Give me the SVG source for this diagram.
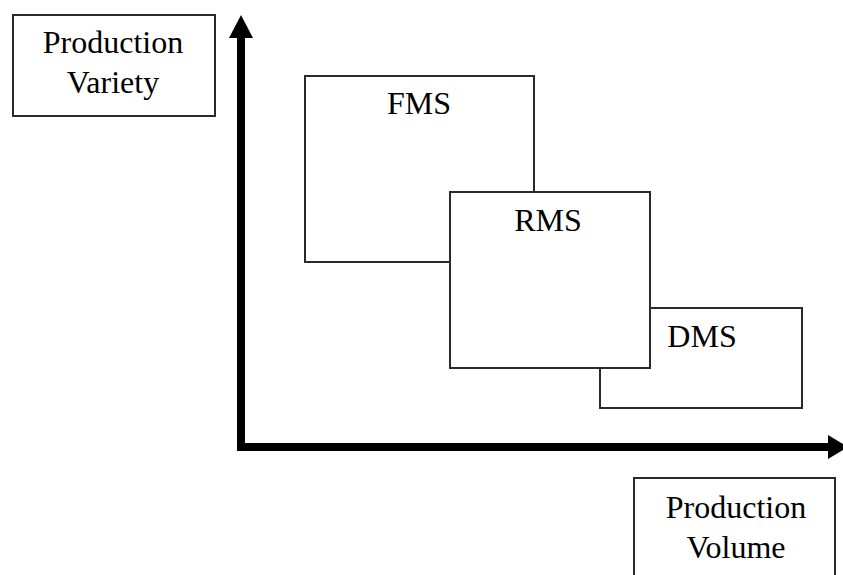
<svg xmlns="http://www.w3.org/2000/svg" width="843" height="575" viewBox="0 0 843 575">
<style>
.box{fill:#fff;stroke:#2a2a2a;stroke-width:2}
.t{font-family:'Liberation Serif','DejaVu Serif',serif;font-size:32px;fill:#000;text-anchor:middle}
.axis{stroke:#000;stroke-width:8;fill:none}
</style>
<rect width="843" height="575" fill="#fff"/>
<g id="label-variety">
<rect class="box" x="13" y="15" width="202" height="101"/>
<text class="t" x="113" y="53">Production</text>
<text class="t" x="113" y="93">Variety</text>
</g>
<g id="label-volume">
<rect class="box" x="634" y="478" width="201" height="110"/>
<text class="t" x="736" y="518">Production</text>
<text class="t" x="736" y="558">Volume</text>
</g>
<g id="fms">
<rect class="box" x="305" y="76" width="229" height="186"/>
<text class="t" x="419" y="114">FMS</text>
</g>
<g id="dms">
<rect class="box" x="600" y="308" width="202" height="100"/>
<text class="t" x="702" y="347">DMS</text>
</g>
<g id="rms">
<rect class="box" x="450" y="192" width="200" height="176"/>
<text class="t" x="548" y="231">RMS</text>
</g>
<g id="connectors">
<path class="axis" d="M241 36 V451 M237 447 H830"/>
<polygon points="241,15 229,38 253,38" fill="#000"/>
<polygon points="848,447 828,435 828,459" fill="#000"/>
</g>
</svg>
